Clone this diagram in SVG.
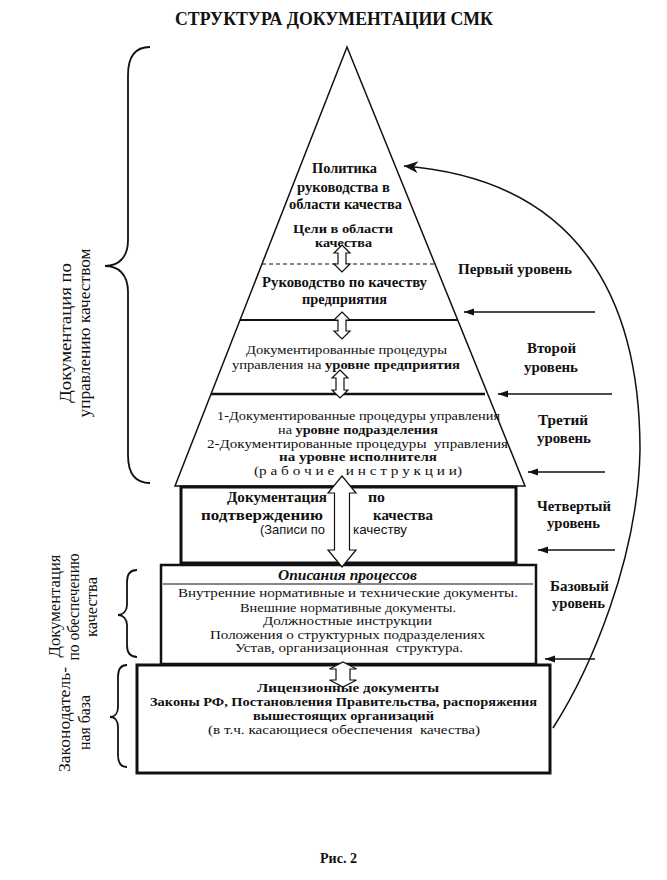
<svg xmlns="http://www.w3.org/2000/svg" width="667" height="880" viewBox="0 0 667 880">
<style>
text{font-family:"Liberation Serif","Times New Roman",serif;fill:#111;}
.b{font-weight:bold;}
.t12{font-size:12.5px;}
.t13{font-size:13.5px;}
.t14{font-size:14px;}
.t16{font-size:16px;}
.sans{font-family:"Liberation Sans",Arial,sans-serif;}
.ln{fill:none;stroke:#111;}
.dbl{fill:#fff;stroke:#111;stroke-width:1.2;}
.brace{fill:none;stroke:#111;stroke-width:1.8;}
</style>
<defs>
<marker id="ah" markerUnits="userSpaceOnUse" markerWidth="11" markerHeight="8" refX="10" refY="3.5" orient="auto" viewBox="0 0 11 8">
<path d="M0,0 L10,3.5 L0,7 Z" fill="#111"/>
</marker>
<marker id="ah2" markerUnits="userSpaceOnUse" markerWidth="16" markerHeight="13" refX="15" refY="6" orient="auto" viewBox="0 0 16 13">
<path d="M1,0 L15,6 L1,12 L5,6 Z" fill="#111"/>
</marker>
</defs>
<rect width="667" height="880" fill="#fff"/>
<text id="title" class="b" x="334" y="25" font-size="18" text-anchor="middle" textLength="318" lengthAdjust="spacingAndGlyphs">СТРУКТУРА ДОКУМЕНТАЦИИ СМК</text>

<g id="pyramid">
<polygon points="347,47 175,486 525,486" class="ln" stroke-width="1.5"/>
<line x1="262" y1="264" x2="436" y2="264" class="ln" stroke-width="1.2" stroke-dasharray="4,3"/>
<line x1="240" y1="320" x2="457" y2="320" class="ln" stroke-width="2"/>
<line x1="211" y1="394" x2="485" y2="394" class="ln" stroke-width="2.6"/>
</g>

<g id="level1-policy">
<text class="b t14" x="344.5" y="173" text-anchor="middle" textLength="65" lengthAdjust="spacingAndGlyphs">Политика</text>
<text class="b t14" x="343.5" y="192" text-anchor="middle" textLength="93" lengthAdjust="spacingAndGlyphs">руководства в</text>
<text class="b t14" x="345.5" y="209" text-anchor="middle" textLength="113" lengthAdjust="spacingAndGlyphs">области качества</text>
<text class="b t12" x="343" y="233" text-anchor="middle" textLength="100" lengthAdjust="spacingAndGlyphs">Цели в области</text>
<text class="b t12" x="343.5" y="246.5" text-anchor="middle" textLength="57" lengthAdjust="spacingAndGlyphs">качества</text>
</g>

<g id="level1-manual">
<text class="b t14" x="344.5" y="287" text-anchor="middle" textLength="165" lengthAdjust="spacingAndGlyphs">Руководство по качеству</text>
<text class="b t14" x="344.5" y="303.5" text-anchor="middle" textLength="85" lengthAdjust="spacingAndGlyphs">предприятия</text>
</g>

<g id="level2">
<text class="t13" x="346.5" y="354" text-anchor="middle" textLength="201" lengthAdjust="spacingAndGlyphs">Документированные процедуры</text>
<text class="t13" x="346" y="368.5" text-anchor="middle" textLength="228" lengthAdjust="spacingAndGlyphs">управления на <tspan class="b">уровне предприятия</tspan></text>
</g>

<g id="level3">
<text class="t13" x="358.5" y="420" text-anchor="middle" textLength="283" lengthAdjust="spacingAndGlyphs">1-Документированные процедуры управления</text>
<text class="t13" x="358" y="433.5" text-anchor="middle" textLength="160" lengthAdjust="spacingAndGlyphs">на <tspan class="b">уровне подразделения</tspan></text>
<text class="t13" x="357.5" y="447.5" text-anchor="middle" textLength="301" lengthAdjust="spacingAndGlyphs" xml:space="preserve">2-Документированные процедуры  управления</text>
<text class="b t13" x="358" y="461" text-anchor="middle" textLength="158" lengthAdjust="spacingAndGlyphs">на уровне исполнителя</text>
<text class="t13" x="358" y="474.5" text-anchor="middle" textLength="208" lengthAdjust="spacingAndGlyphs" xml:space="preserve">(р а б о ч и е   и н с т р у к ц и и)</text>
</g>

<g id="level4">
<rect x="181" y="487" width="335" height="76" class="ln" stroke-width="3"/>
<text class="b t14" x="277" y="502" text-anchor="middle" textLength="100" lengthAdjust="spacingAndGlyphs">Документация</text>
<text class="b t14" x="376.5" y="502" text-anchor="middle" textLength="17" lengthAdjust="spacingAndGlyphs">по</text>
<text class="b t14" x="262" y="520" text-anchor="middle" textLength="122" lengthAdjust="spacingAndGlyphs">подтверждению</text>
<text class="b t14" x="403" y="520" text-anchor="middle" textLength="60" lengthAdjust="spacingAndGlyphs">качества</text>
<text class="sans" font-size="13" x="292.5" y="534" text-anchor="middle" textLength="65" lengthAdjust="spacingAndGlyphs">(Записи по</text>
<text class="sans" font-size="13" x="380" y="534" text-anchor="middle" textLength="54" lengthAdjust="spacingAndGlyphs">качеству</text>
</g>

<g id="base-level">
<rect x="161" y="565" width="375" height="99" class="ln" stroke-width="2.5"/>
<line x1="163" y1="584" x2="533" y2="584" class="ln" stroke-width="1"/>
<text class="b t14" x="347.5" y="580" text-anchor="middle" font-style="italic" textLength="139" lengthAdjust="spacingAndGlyphs">Описания процессов</text>
<text class="t13" x="348" y="597" text-anchor="middle" textLength="340" lengthAdjust="spacingAndGlyphs">Внутренние нормативные и технические документы.</text>
<text class="t13" x="348" y="611.5" text-anchor="middle" textLength="216" lengthAdjust="spacingAndGlyphs">Внешние нормативные документы.</text>
<text class="t13" x="347.5" y="625" text-anchor="middle" textLength="169" lengthAdjust="spacingAndGlyphs">Должностные инструкции</text>
<text class="t13" x="347.5" y="638.5" text-anchor="middle" textLength="275" lengthAdjust="spacingAndGlyphs">Положения о структурных подразделениях</text>
<text class="t13" x="349" y="652" text-anchor="middle" textLength="228" lengthAdjust="spacingAndGlyphs" xml:space="preserve">Устав, организационная  структура.</text>
</g>

<g id="legal-base">
<rect x="137" y="665" width="413" height="108" class="ln" stroke-width="3"/>
<text class="b t13" x="348" y="692" text-anchor="middle" textLength="182" lengthAdjust="spacingAndGlyphs">Лицензионные документы</text>
<text class="b t13" x="343.5" y="706" text-anchor="middle" textLength="387" lengthAdjust="spacingAndGlyphs">Законы РФ, Постановления Правительства, распоряжения</text>
<text class="b t13" x="343.5" y="720" text-anchor="middle" textLength="181" lengthAdjust="spacingAndGlyphs">вышестоящих организаций</text>
<text class="t13" x="344" y="733.5" text-anchor="middle" textLength="272" lengthAdjust="spacingAndGlyphs" xml:space="preserve">(в т.ч. касающиеся обеспечения  качества)</text>
</g>

<g id="level-labels">
<text class="b t14" x="515" y="273.5" text-anchor="middle" textLength="114" lengthAdjust="spacingAndGlyphs">Первый уровень</text>
<text class="b t14" x="551.5" y="353" text-anchor="middle" textLength="49" lengthAdjust="spacingAndGlyphs">Второй</text>
<text class="b t14" x="551" y="372" text-anchor="middle" textLength="54" lengthAdjust="spacingAndGlyphs">уровень</text>
<text class="b t14" x="563" y="425" text-anchor="middle" textLength="50" lengthAdjust="spacingAndGlyphs">Третий</text>
<text class="b t14" x="564" y="442.5" text-anchor="middle" textLength="54" lengthAdjust="spacingAndGlyphs">уровень</text>
<text class="b t14" x="574" y="510.5" text-anchor="middle" textLength="74" lengthAdjust="spacingAndGlyphs">Четвертый</text>
<text class="b t14" x="573.5" y="528" text-anchor="middle" textLength="53" lengthAdjust="spacingAndGlyphs">уровень</text>
<text class="b t14" x="579.5" y="591" text-anchor="middle" textLength="59" lengthAdjust="spacingAndGlyphs">Базовый</text>
<text class="b t14" x="578.5" y="608" text-anchor="middle" textLength="53" lengthAdjust="spacingAndGlyphs">уровень</text>
</g>

<g id="side-groups">
<path class="brace" d="M150,47 C136,47 128,56 128,75 L128,240 C128,258 118,266 105,266 C118,266 128,274 128,292 L128,455 C128,474 136,483 150,483"/>
<text class="t16" transform="translate(71,333) rotate(-90)" text-anchor="middle" textLength="140" lengthAdjust="spacingAndGlyphs">Документация по</text>
<text class="t16" transform="translate(89.5,333) rotate(-90)" text-anchor="middle" textLength="169" lengthAdjust="spacingAndGlyphs">управлению качеством</text>

<path class="brace" d="M137,570 C131,570 127,574 127,582 L127,605 C127,611 123,615 118,615 C123,615 127,619 127,625 L127,645 C127,653 131,657 137,657"/>
<text class="t16" transform="translate(60,606) rotate(-90)" text-anchor="middle" textLength="103" lengthAdjust="spacingAndGlyphs">Документация</text>
<text class="t16" transform="translate(78.5,607) rotate(-90)" text-anchor="middle" textLength="107" lengthAdjust="spacingAndGlyphs">по обеспечению</text>
<text class="t16" transform="translate(96.5,607) rotate(-90)" text-anchor="middle" textLength="60" lengthAdjust="spacingAndGlyphs">качества</text>

<path class="brace" d="M127,665 C121,665 118,669 118,677 L118,707 C118,713 115,717 110,717 C115,717 118,721 118,727 L118,755 C118,763 121,767 127,767"/>
<text class="t16" transform="translate(70,719.5) rotate(-90)" text-anchor="middle" textLength="105" lengthAdjust="spacingAndGlyphs">Законодатель-</text>
<text class="t16" transform="translate(89.5,722.5) rotate(-90)" text-anchor="middle" textLength="55" lengthAdjust="spacingAndGlyphs">ная база</text>
</g>

<g id="connectors">
<path class="dbl" d="M342,245 L350,253 L346,253 L346,264 L350,264 L342,272 L334,264 L338,264 L338,253 L334,253 Z"/>
<path class="dbl" d="M342,312 L350,320 L346,320 L346,331 L350,331 L342,339 L334,331 L338,331 L338,320 L334,320 Z"/>
<path class="dbl" d="M340,370 L348,378 L344,378 L344,390 L348,390 L340,398 L332,390 L336,390 L336,378 L332,378 Z"/>
<path class="dbl" d="M342,476 L356,493 L349.5,493 L349.5,550 L356,550 L342,567 L328,550 L334.5,550 L334.5,493 L328,493 Z"/>
<path class="dbl" d="M343,662 L356.5,669 L350,669 L350,680 L356.5,680 L343,687 L329.5,680 L336,680 L336,669 L329.5,669 Z"/>
<line x1="595" y1="312" x2="464" y2="312" class="ln" stroke-width="1.3" marker-end="url(#ah)"/>
<line x1="612" y1="394" x2="498" y2="394" class="ln" stroke-width="1.3" marker-end="url(#ah)"/>
<line x1="605" y1="472" x2="528" y2="472" class="ln" stroke-width="1.3" marker-end="url(#ah)"/>
<line x1="615" y1="550" x2="538" y2="550" class="ln" stroke-width="1.3" marker-end="url(#ah)"/>
<line x1="595" y1="659" x2="545" y2="659" class="ln" stroke-width="1.3" marker-end="url(#ah)"/>
<path class="ln" stroke-width="1.5" d="M553,728 C590,670 638,560 640,450 C640,300 580,180 404,166" marker-end="url(#ah2)"/>
</g>

<text id="caption" class="b t14" x="338.5" y="863" text-anchor="middle" textLength="37" lengthAdjust="spacingAndGlyphs">Рис. 2</text>
</svg>
